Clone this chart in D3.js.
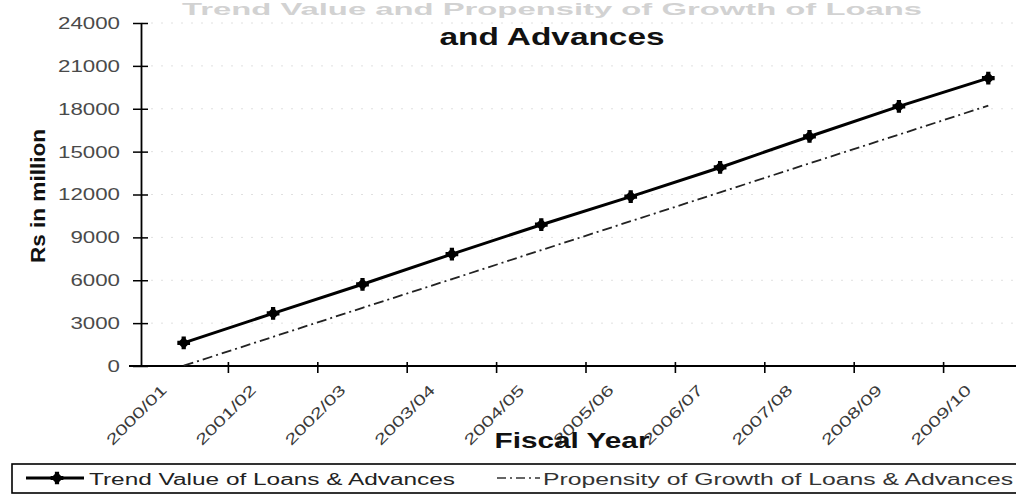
<!DOCTYPE html>
<html>
<head>
<meta charset="utf-8">
<script src="https://cdn.jsdelivr.net/npm/d3@7"></script>
<style>
  html, body { margin: 0; padding: 0; background: #fff; }
  svg { display: block; font-family: Arial, "Liberation Sans", sans-serif; }
</style>
</head>
<body>
<svg id="chart" width="1016" height="497"></svg>
<script>
const categories = ["2000/01", "2001/02", "2002/03", "2003/04", "2004/05", "2005/06", "2006/07", "2007/08", "2008/09", "2009/10"];
const trendValues = [1616, 3681, 5719, 7827, 9885, 11855, 13890, 16060, 18170, 20140];
const propensityValues = [20, 2040, 4070, 6080, 8110, 10130, 12150, 14180, 16190, 18220];
const yTicks = [0, 3000, 6000, 9000, 12000, 15000, 18000, 21000, 24000];
const titleLines = ["Trend Value and Propensity of Growth of Loans", "and Advances"];
const yTitle = "Rs in million";
const xTitle = "Fiscal Year";
const seriesNames = ["Trend Value of Loans & Advances", "Propensity of Growth of Loans & Advances"];

const svg = d3.select("#chart");
const plotLeft = 141, plotBottom = 366, plotTop = 23;

const x = d3.scaleBand().domain(categories).range([plotLeft - 2, plotLeft - 2 + 10 * 89.4]);
const y = d3.scaleLinear().domain([0, 24000]).range([plotBottom, plotTop]);
const cx = d => x(d) + x.bandwidth() / 2;

// faint gridlines
svg.append("g").selectAll("line").data(yTicks.filter(d => d > 0)).join("line")
  .attr("x1", plotLeft).attr("x2", 1016)
  .attr("y1", d => y(d)).attr("y2", d => y(d))
  .attr("stroke", "#e0e0e0").attr("stroke-width", 1)
  .attr("stroke-dasharray", "2,8");

// Y axis
const yAxis = svg.append("g").attr("transform", `translate(${plotLeft},0)`)
  .call(d3.axisLeft(y).tickValues(yTicks).tickSize(0).tickPadding(21).tickFormat(d3.format("d")));
yAxis.select(".domain").attr("stroke", "#000").attr("stroke-width", 1.8);
yAxis.selectAll(".tick text")
  .attr("font-size", 17).attr("fill", "#4a4a4a")
  .attr("font-family", "Arial, 'Liberation Sans', sans-serif")
  .attr("textLength", d => String(d).length * 12.4)
  .attr("lengthAdjust", "spacingAndGlyphs");
yAxis.selectAll(".tick").append("line")
  .attr("x1", -8).attr("x2", 7).attr("stroke", "#000").attr("stroke-width", 1.5);

// X axis
svg.append("line").attr("x1", plotLeft - 12).attr("x2", 1016)
  .attr("y1", plotBottom).attr("y2", plotBottom).attr("stroke", "#000").attr("stroke-width", 1.8);
const xAxis = svg.append("g").attr("transform", `translate(0,${plotBottom})`)
  .call(d3.axisBottom(x).tickSize(0).tickFormat(d => d));
xAxis.select(".domain").remove();
xAxis.selectAll(".tick text")
  .attr("font-size", 15).attr("fill", "#3a3a3a")
  .attr("font-family", "Arial, 'Liberation Sans', sans-serif")
  .attr("text-anchor", "end")
  .attr("textLength", 78).attr("lengthAdjust", "spacingAndGlyphs")
  .attr("transform", "translate(-16,25) rotate(-45)")
  .attr("dy", "0").attr("y", 0).attr("x", 0);
// boundary ticks
svg.append("g").selectAll("line").data(categories.slice(1)).join("line")
  .attr("x1", d => x(d)).attr("x2", d => x(d))
  .attr("y1", plotBottom - 4).attr("y2", plotBottom + 7)
  .attr("stroke", "#000").attr("stroke-width", 1.6);

// Title
svg.append("text").attr("x", 552).attr("y", 15).attr("text-anchor", "middle")
  .attr("font-size", 17).attr("font-weight", "bold").attr("fill", "#d2d2d2")
  .attr("textLength", 740).attr("lengthAdjust", "spacingAndGlyphs")
  .text(titleLines[0]);
svg.append("text").attr("x", 552).attr("y", 45).attr("text-anchor", "middle")
  .attr("font-size", 24).attr("font-weight", "bold").attr("fill", "#111")
  .attr("textLength", 225).attr("lengthAdjust", "spacingAndGlyphs")
  .text(titleLines[1]);

// Axis titles
svg.append("text").attr("transform", "translate(45,196) rotate(-90)")
  .attr("text-anchor", "middle").attr("font-size", 21).attr("font-weight", "bold").attr("fill", "#111")
  .attr("textLength", 134).attr("lengthAdjust", "spacingAndGlyphs")
  .text(yTitle);
svg.append("text").attr("x", 572).attr("y", 448).attr("text-anchor", "middle")
  .attr("font-size", 22).attr("font-weight", "bold").attr("fill", "#111")
  .attr("textLength", 155).attr("lengthAdjust", "spacingAndGlyphs")
  .text(xTitle);

// Propensity line (dash-dot)
const lineGen = d3.line().x((d, i) => cx(categories[i])).y(d => y(d));
svg.append("path").datum(propensityValues)
  .attr("d", lineGen).attr("fill", "none")
  .attr("stroke", "#222").attr("stroke-width", 1.8)
  .attr("stroke-dasharray", "10,4,2,4");

// Trend line
svg.append("path").datum(trendValues)
  .attr("d", lineGen).attr("fill", "none")
  .attr("stroke", "#000").attr("stroke-width", 3);

const marker = (g, px, py) => {
  g.append("path").attr("d", d3.symbol().type(d3.symbolSquare).size(75)())
    .attr("transform", `translate(${px},${py}) rotate(45)`).attr("fill", "#000");
  g.append("path").attr("d", d3.symbol().type(d3.symbolCross).size(90)())
    .attr("transform", `translate(${px},${py})`).attr("fill", "#000");
};
const mg = svg.append("g");
trendValues.forEach((v, i) => marker(mg, cx(categories[i]), y(v)));

// Legend
const lg = svg.append("g");
lg.append("rect").attr("x", 12).attr("y", 464).attr("width", 1020).attr("height", 29)
  .attr("fill", "none").attr("stroke", "#000").attr("stroke-width", 1.6);
lg.append("line").attr("x1", 26).attr("x2", 84).attr("y1", 478).attr("y2", 478)
  .attr("stroke", "#000").attr("stroke-width", 3);
marker(lg, 57, 478);
lg.append("text").attr("x", 89).attr("y", 485).attr("font-size", 16).attr("fill", "#222")
  .attr("textLength", 366).attr("lengthAdjust", "spacingAndGlyphs")
  .text(seriesNames[0]);
lg.append("line").attr("x1", 497).attr("x2", 540).attr("y1", 478).attr("y2", 478)
  .attr("stroke", "#333").attr("stroke-width", 1.6).attr("stroke-dasharray", "9,4,2,4");
lg.append("text").attr("x", 543).attr("y", 485).attr("font-size", 16).attr("fill", "#333")
  .attr("textLength", 470).attr("lengthAdjust", "spacingAndGlyphs")
  .text(seriesNames[1]);
</script>
</body>
</html>
